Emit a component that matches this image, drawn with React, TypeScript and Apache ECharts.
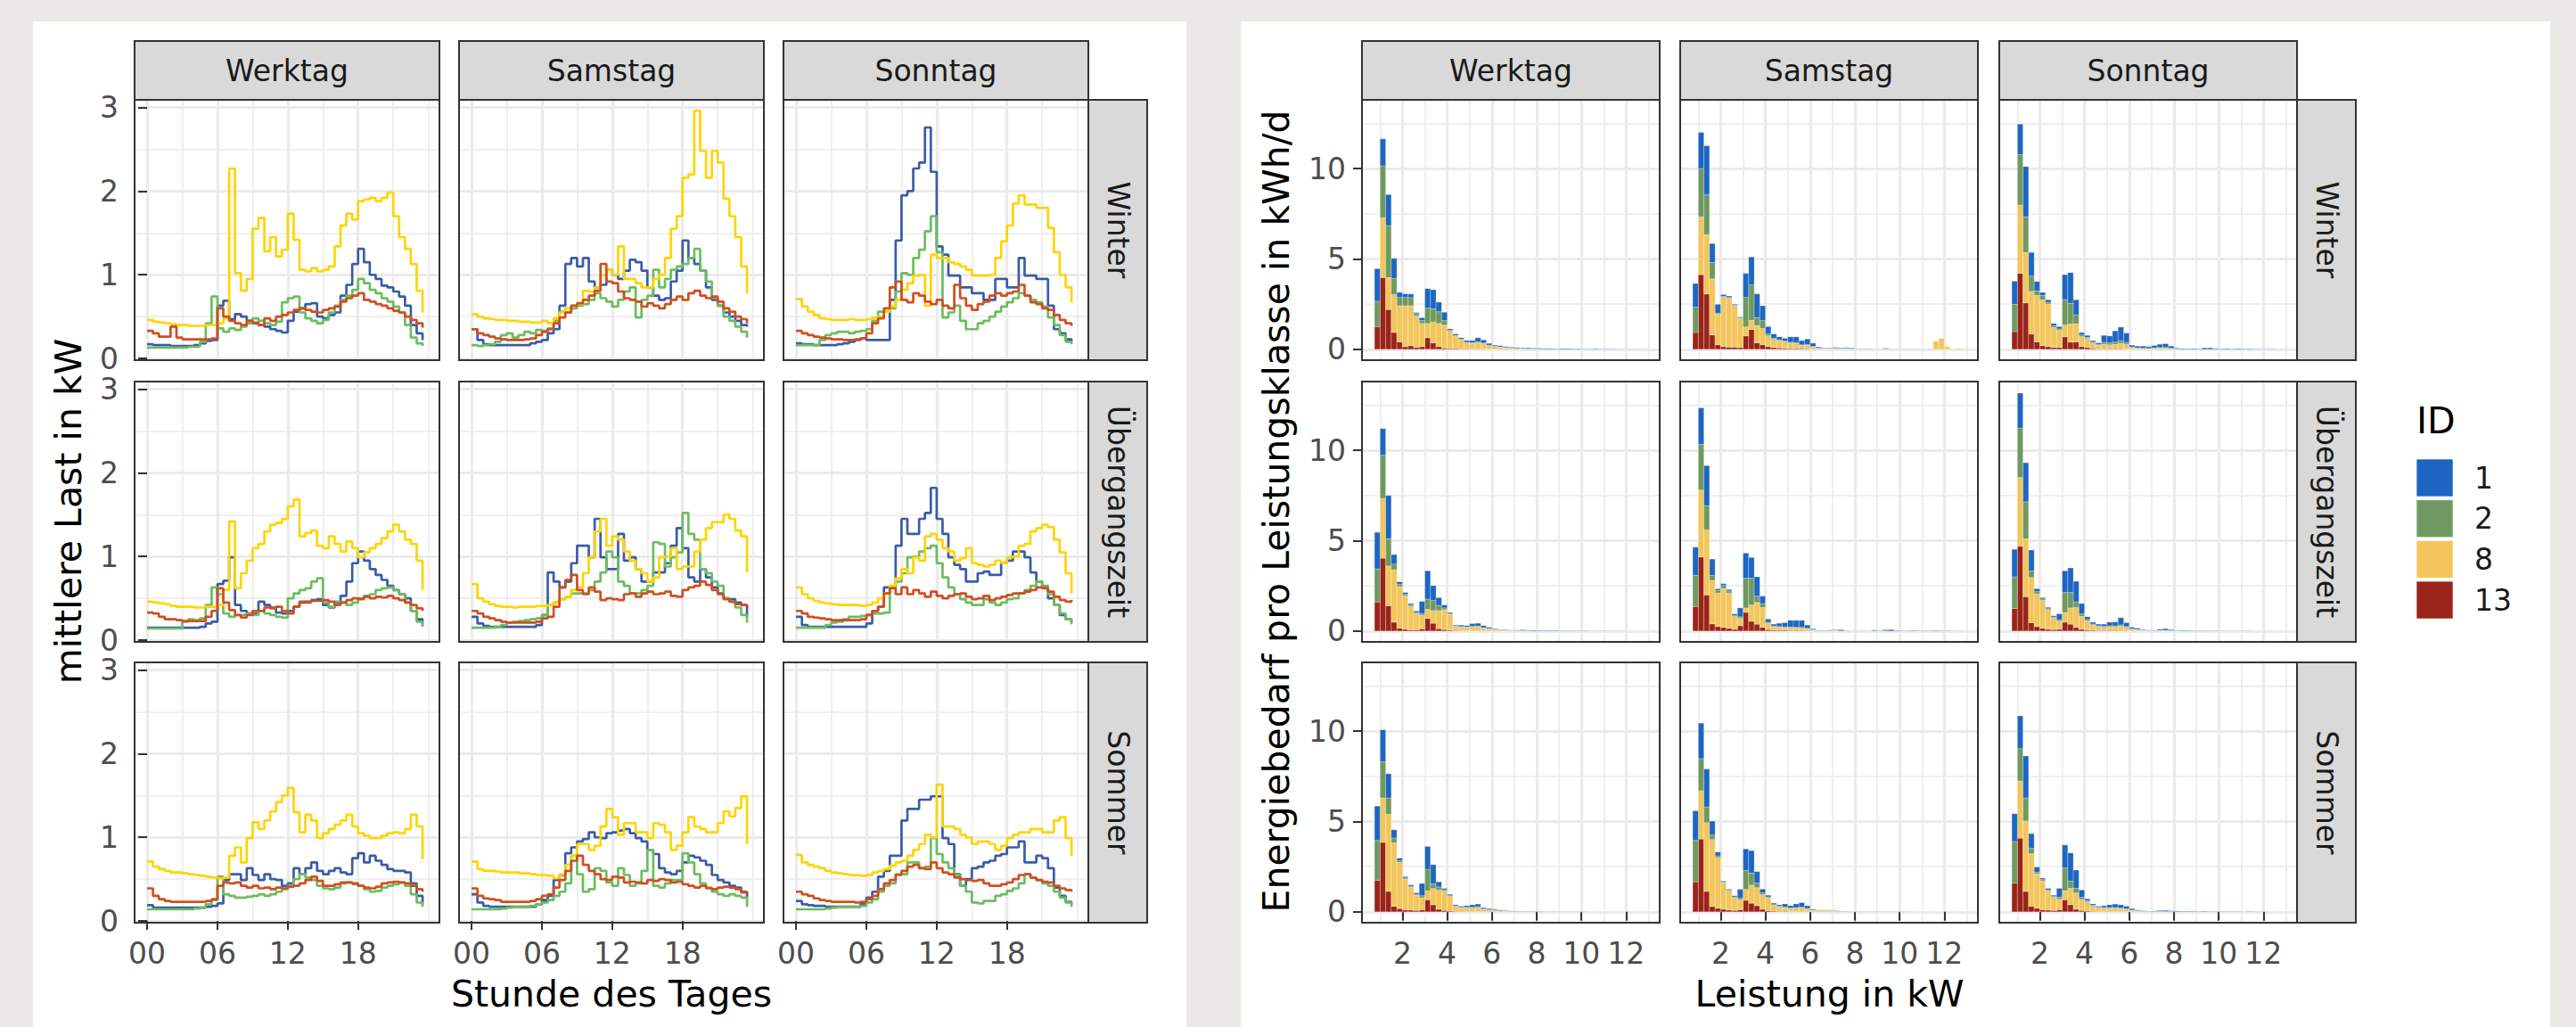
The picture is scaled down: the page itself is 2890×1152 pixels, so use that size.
import React, { useEffect, useRef } from "react";
import * as echarts from "echarts";

// ---------- categories & ticks ----------
const DAYS = ["Werktag", "Samstag", "Sonntag"];
const SEASONS = ["Winter", "Übergangszeit", "Sommer"];
const IDS = ["1", "2", "8", "13"];
const HOUR_TICKS = [0, 6, 12, 18];
const HOUR_TICK_LABELS = ["00", "06", "12", "18"];
const HOUR_MINOR = [3, 9, 15, 21, 24];
const LOAD_TICKS = [0, 1, 2, 3];
const LOAD_MINOR = [0.5, 1.5, 2.5];
const KW_TICKS = [2, 4, 6, 8, 10, 12];
const KW_MINOR = [1, 3, 5, 7, 9, 11, 13];
const ENERGY_TICKS = [0, 5, 10];
const ENERGY_MINOR = [2.5, 7.5, 12.5];

const HALF_HOURS = [0, 0.5, 1, 1.5, 2, 2.5, 3, 3.5, 4, 4.5, 5, 5.5, 6, 6.5, 7, 7.5, 8, 8.5, 9, 9.5, 10, 10.5, 11, 11.5, 12, 12.5, 13, 13.5, 14, 14.5, 15, 15.5, 16, 16.5, 17, 17.5, 18, 18.5, 19, 19.5, 20, 20.5, 21, 21.5, 22, 22.5, 23, 23.5];
const BIN_STARTS = [0.75, 1, 1.25, 1.5, 1.75, 2, 2.25, 2.5, 2.75, 3, 3.25, 3.5, 3.75, 4, 4.25, 4.5, 4.75, 5, 5.25, 5.5, 5.75, 6, 6.25, 6.5, 6.75, 7, 7.25, 7.5, 7.75, 8, 8.25, 8.5, 8.75, 9, 9.25, 9.5, 9.75, 10, 10.25, 10.5, 10.75, 11, 11.25, 11.5, 11.75, 12, 12.25, 12.5];
const BIN_WIDTH = 0.25;

// ---------- mittlere Last in kW (half-hourly steps) ----------
const load_Winter_Werktag_1 = [0.17,0.16,0.16,0.16,0.15,0.15,0.15,0.15,0.16,0.18,0.21,0.22,0.63,0.69,0.47,0.53,0.50,0.45,0.42,0.40,0.38,0.35,0.33,0.31,0.45,0.56,0.60,0.65,0.66,0.50,0.48,0.52,0.55,0.75,0.88,1.13,1.31,1.15,1.00,0.95,0.87,0.85,0.80,0.74,0.63,0.40,0.30,0.22];
const load_Winter_Werktag_2 = [0.13,0.13,0.13,0.13,0.13,0.13,0.13,0.14,0.14,0.20,0.42,0.74,0.36,0.32,0.36,0.34,0.38,0.42,0.48,0.45,0.42,0.40,0.44,0.67,0.72,0.74,0.55,0.48,0.45,0.42,0.46,0.55,0.63,0.70,0.75,0.82,0.95,0.90,0.82,0.78,0.72,0.68,0.62,0.55,0.40,0.25,0.18,0.15];
const load_Winter_Werktag_8 = [0.46,0.44,0.43,0.42,0.41,0.40,0.40,0.39,0.39,0.39,0.40,0.40,0.42,0.48,2.27,1.02,0.81,0.95,1.55,1.68,1.28,1.45,1.22,1.30,1.73,1.42,1.06,1.04,1.08,1.04,1.06,1.10,1.34,1.59,1.73,1.66,1.88,1.90,1.92,1.88,1.92,1.98,1.70,1.45,1.31,1.13,0.81,0.55];
const load_Winter_Werktag_13 = [0.33,0.30,0.26,0.26,0.38,0.25,0.23,0.23,0.23,0.23,0.23,0.24,0.60,0.50,0.45,0.42,0.40,0.45,0.43,0.40,0.48,0.45,0.50,0.52,0.55,0.58,0.60,0.58,0.56,0.55,0.58,0.60,0.62,0.68,0.72,0.75,0.78,0.70,0.68,0.65,0.63,0.60,0.57,0.55,0.50,0.46,0.42,0.37];

const load_Winter_Samstag_1 = [0.35,0.22,0.17,0.16,0.16,0.16,0.16,0.16,0.16,0.16,0.18,0.20,0.22,0.30,0.35,0.63,1.13,1.20,1.10,1.20,0.92,0.85,0.88,1.06,1.00,0.95,1.05,1.18,1.15,1.05,0.85,0.75,0.70,0.72,0.92,1.05,1.41,1.20,1.13,1.05,0.85,0.70,0.63,0.55,0.50,0.45,0.40,0.38];
const load_Winter_Samstag_2 = [0.16,0.15,0.16,0.17,0.20,0.28,0.30,0.25,0.28,0.32,0.30,0.34,0.33,0.36,0.45,0.56,0.55,0.60,0.63,0.65,0.70,0.78,0.72,0.68,0.62,0.70,0.80,0.85,0.49,0.70,0.75,1.06,0.85,0.95,1.06,1.10,1.13,1.20,1.31,1.05,0.92,0.72,0.63,0.50,0.45,0.38,0.32,0.25];
const load_Winter_Samstag_8 = [0.53,0.50,0.48,0.47,0.46,0.46,0.45,0.45,0.44,0.44,0.43,0.43,0.45,0.42,0.48,0.55,0.60,0.63,0.65,0.81,0.80,0.85,1.00,1.06,1.00,1.34,0.95,0.95,0.90,0.85,0.85,0.95,1.00,1.20,1.55,1.70,2.16,2.20,2.96,2.48,2.16,2.48,2.34,1.91,1.70,1.45,1.10,0.78];
const load_Winter_Samstag_13 = [0.35,0.30,0.28,0.26,0.24,0.23,0.22,0.22,0.22,0.23,0.24,0.28,0.32,0.35,0.42,0.49,0.55,0.63,0.66,0.70,0.75,0.81,1.13,0.92,0.90,0.80,0.72,0.70,0.68,0.62,0.66,0.63,0.60,0.65,0.70,0.74,0.70,0.78,0.81,0.75,0.72,0.74,0.68,0.60,0.56,0.50,0.47,0.42];

const load_Winter_Sonntag_1 = [0.18,0.17,0.17,0.16,0.16,0.16,0.16,0.17,0.18,0.20,0.22,0.24,0.22,0.22,0.22,0.22,0.70,1.41,1.95,2.00,2.27,2.34,2.76,2.23,1.34,1.24,0.99,0.99,0.85,0.85,0.78,0.78,0.70,0.70,0.95,0.95,0.85,0.85,1.20,0.99,0.99,0.95,0.95,0.63,0.35,0.30,0.23,0.20];
const load_Winter_Sonntag_2 = [0.16,0.16,0.16,0.16,0.22,0.28,0.30,0.32,0.32,0.30,0.32,0.33,0.35,0.45,0.56,0.56,0.60,0.80,1.02,1.00,1.20,1.30,1.52,1.70,1.27,0.49,0.55,0.63,0.45,0.35,0.35,0.42,0.45,0.50,0.56,0.62,0.67,0.72,0.78,0.75,0.70,0.67,0.62,0.49,0.40,0.28,0.20,0.17];
const load_Winter_Sonntag_8 = [0.71,0.62,0.56,0.52,0.48,0.47,0.46,0.46,0.46,0.47,0.46,0.46,0.47,0.49,0.50,0.56,0.62,0.70,0.82,0.90,0.99,1.00,0.63,1.24,1.20,1.20,1.15,1.13,1.10,1.06,0.99,0.99,0.99,1.00,1.20,1.40,1.59,1.85,1.95,1.84,1.84,1.80,1.80,1.56,1.27,1.00,0.85,0.67];
const load_Winter_Sonntag_13 = [0.33,0.30,0.28,0.26,0.25,0.24,0.23,0.23,0.22,0.22,0.23,0.24,0.30,0.42,0.48,0.60,0.85,0.92,0.70,0.67,0.78,0.75,0.68,0.65,0.70,0.63,0.60,0.88,0.72,0.63,0.58,0.65,0.68,0.75,0.78,0.75,0.78,0.80,0.88,0.75,0.67,0.65,0.60,0.58,0.52,0.46,0.42,0.39];

const load_Ueber_Werktag_1 = [0.15,0.15,0.15,0.15,0.15,0.15,0.15,0.15,0.15,0.16,0.20,0.22,0.67,0.71,0.99,0.42,0.35,0.32,0.32,0.46,0.42,0.39,0.33,0.32,0.35,0.40,0.45,0.46,0.48,0.49,0.42,0.39,0.45,0.53,0.70,0.92,1.06,0.95,0.85,0.78,0.72,0.65,0.60,0.55,0.50,0.35,0.25,0.19];
const load_Ueber_Werktag_2 = [0.14,0.14,0.14,0.14,0.14,0.14,0.22,0.25,0.24,0.26,0.42,0.63,0.55,0.32,0.28,0.30,0.30,0.32,0.30,0.35,0.32,0.30,0.28,0.27,0.50,0.56,0.60,0.62,0.70,0.74,0.45,0.40,0.46,0.45,0.42,0.45,0.50,0.53,0.55,0.60,0.62,0.63,0.60,0.55,0.45,0.35,0.22,0.16];
const load_Ueber_Werktag_8 = [0.46,0.45,0.44,0.43,0.41,0.40,0.40,0.40,0.39,0.39,0.40,0.40,0.42,0.60,1.42,0.62,0.80,0.95,1.10,1.15,1.30,1.38,1.40,1.45,1.60,1.68,1.24,1.28,1.31,1.13,1.10,1.24,1.15,1.06,1.18,1.10,0.99,1.05,1.10,1.15,1.22,1.30,1.38,1.30,1.20,1.15,0.95,0.60];
const load_Ueber_Werktag_13 = [0.33,0.32,0.28,0.25,0.25,0.24,0.23,0.23,0.23,0.23,0.28,0.35,0.62,0.45,0.36,0.30,0.27,0.30,0.35,0.35,0.39,0.38,0.40,0.35,0.32,0.40,0.46,0.45,0.47,0.47,0.48,0.46,0.42,0.45,0.48,0.50,0.49,0.52,0.50,0.52,0.51,0.53,0.50,0.48,0.45,0.42,0.38,0.35];

const load_Ueber_Samstag_1 = [0.28,0.20,0.17,0.16,0.16,0.16,0.16,0.16,0.16,0.16,0.16,0.18,0.30,0.81,0.70,0.63,0.70,0.92,1.13,1.13,0.99,1.45,0.99,0.85,0.85,1.27,0.95,0.99,0.85,0.70,0.70,0.81,0.81,0.92,1.13,1.34,1.10,0.75,0.70,0.85,0.75,0.63,0.56,0.50,0.49,0.45,0.42,0.28];
const load_Ueber_Samstag_2 = [0.15,0.15,0.15,0.15,0.16,0.18,0.21,0.22,0.23,0.24,0.25,0.26,0.30,0.42,0.45,0.49,0.52,0.56,0.56,0.56,0.60,0.70,0.81,1.06,0.99,0.70,0.65,0.56,0.56,0.60,0.65,1.17,1.15,0.88,0.99,1.05,1.52,1.27,1.20,0.85,0.80,0.70,0.65,0.50,0.46,0.39,0.30,0.21];
const load_Ueber_Samstag_8 = [0.67,0.50,0.46,0.43,0.41,0.40,0.40,0.39,0.40,0.40,0.40,0.41,0.41,0.42,0.45,0.49,0.52,0.60,0.63,0.80,0.99,1.30,1.45,1.13,1.24,1.20,1.06,0.95,0.85,0.80,0.70,0.75,0.99,1.00,1.10,0.85,0.88,0.88,1.06,1.20,1.34,1.41,1.41,1.50,1.45,1.31,1.24,0.81];
const load_Ueber_Samstag_13 = [0.35,0.32,0.28,0.26,0.24,0.22,0.21,0.21,0.21,0.21,0.21,0.22,0.26,0.28,0.40,0.63,0.72,0.78,0.60,0.55,0.63,0.58,0.48,0.50,0.49,0.48,0.55,0.56,0.52,0.56,0.58,0.55,0.56,0.58,0.53,0.52,0.60,0.63,0.65,0.70,0.66,0.60,0.55,0.49,0.46,0.43,0.42,0.40];

const load_Ueber_Sonntag_1 = [0.28,0.18,0.16,0.16,0.16,0.16,0.16,0.16,0.16,0.16,0.16,0.16,0.20,0.35,0.40,0.63,0.63,1.13,1.45,1.27,1.27,1.45,1.52,1.82,1.45,1.27,0.99,0.90,0.85,0.70,0.70,0.80,0.82,0.78,0.78,0.92,0.95,1.06,1.06,0.99,0.81,0.70,0.63,0.50,0.42,0.30,0.25,0.22];
const load_Ueber_Sonntag_2 = [0.15,0.15,0.15,0.15,0.15,0.18,0.21,0.22,0.25,0.28,0.28,0.29,0.30,0.32,0.32,0.33,0.63,0.70,0.80,0.99,1.00,1.06,1.10,1.13,0.92,0.75,0.63,0.55,0.49,0.45,0.42,0.42,0.49,0.45,0.42,0.45,0.49,0.50,0.56,0.60,0.65,0.70,0.65,0.55,0.42,0.32,0.25,0.19];
const load_Ueber_Sonntag_8 = [0.63,0.55,0.50,0.47,0.45,0.44,0.43,0.42,0.42,0.42,0.42,0.41,0.42,0.45,0.50,0.56,0.65,0.74,0.85,0.80,0.99,0.95,1.24,1.27,1.20,1.10,1.06,0.95,0.98,1.10,0.92,0.90,0.88,0.90,0.95,0.92,0.99,1.00,1.13,1.15,1.30,1.34,1.38,1.35,1.20,1.05,0.80,0.56];
const load_Ueber_Sonntag_13 = [0.35,0.32,0.28,0.27,0.26,0.25,0.24,0.24,0.24,0.24,0.24,0.25,0.30,0.35,0.40,0.56,0.62,0.55,0.63,0.55,0.60,0.56,0.52,0.58,0.53,0.50,0.53,0.55,0.56,0.52,0.49,0.50,0.53,0.48,0.50,0.52,0.54,0.56,0.56,0.58,0.60,0.63,0.62,0.58,0.52,0.48,0.46,0.48];

const load_Sommer_Werktag_1 = [0.19,0.16,0.16,0.16,0.16,0.16,0.16,0.16,0.16,0.16,0.17,0.18,0.21,0.49,0.56,0.56,0.49,0.63,0.55,0.49,0.56,0.50,0.49,0.42,0.45,0.63,0.56,0.63,0.70,0.60,0.56,0.60,0.63,0.58,0.56,0.75,0.81,0.70,0.78,0.72,0.67,0.62,0.60,0.60,0.58,0.45,0.30,0.21];
const load_Sommer_Werktag_2 = [0.14,0.14,0.14,0.14,0.14,0.14,0.14,0.14,0.15,0.16,0.20,0.25,0.53,0.32,0.30,0.28,0.28,0.29,0.30,0.32,0.30,0.32,0.35,0.38,0.42,0.50,0.56,0.52,0.49,0.42,0.39,0.38,0.40,0.45,0.46,0.44,0.42,0.38,0.35,0.36,0.40,0.42,0.44,0.46,0.42,0.32,0.22,0.17];
const load_Sommer_Werktag_8 = [0.71,0.65,0.62,0.60,0.58,0.58,0.57,0.56,0.55,0.54,0.53,0.52,0.51,0.52,0.78,0.88,0.70,0.99,1.18,1.10,1.20,1.31,1.42,1.50,1.59,1.30,1.06,1.27,1.20,0.99,1.05,1.10,1.15,1.20,1.27,1.13,1.05,1.02,0.99,0.99,1.02,1.05,1.06,1.05,1.10,1.27,1.13,0.74];
const load_Sommer_Werktag_13 = [0.39,0.30,0.26,0.24,0.23,0.23,0.23,0.23,0.23,0.23,0.24,0.26,0.42,0.46,0.45,0.46,0.42,0.40,0.42,0.39,0.40,0.38,0.40,0.39,0.41,0.42,0.45,0.49,0.53,0.48,0.42,0.42,0.44,0.46,0.46,0.45,0.42,0.40,0.39,0.41,0.45,0.46,0.47,0.46,0.45,0.42,0.38,0.35];

const load_Sommer_Samstag_1 = [0.32,0.22,0.18,0.17,0.17,0.17,0.17,0.17,0.17,0.17,0.17,0.20,0.25,0.30,0.49,0.55,0.81,0.88,0.95,0.98,1.06,1.00,0.99,1.05,1.06,1.08,1.10,1.05,0.99,0.95,0.85,0.80,0.63,0.58,0.56,0.60,0.70,0.78,0.76,0.72,0.67,0.55,0.49,0.46,0.42,0.40,0.35,0.28];
const load_Sommer_Samstag_2 = [0.14,0.14,0.14,0.14,0.14,0.15,0.16,0.17,0.17,0.17,0.18,0.20,0.22,0.25,0.30,0.35,0.45,0.78,0.56,0.35,0.38,0.63,0.60,0.46,0.42,0.63,0.55,0.42,0.45,0.60,0.85,0.42,0.40,0.45,0.49,0.49,0.81,0.70,0.56,0.45,0.40,0.35,0.32,0.30,0.32,0.30,0.28,0.17];
const load_Sommer_Samstag_8 = [0.71,0.62,0.60,0.60,0.59,0.58,0.58,0.58,0.57,0.57,0.56,0.55,0.55,0.54,0.51,0.56,0.67,0.78,0.92,0.92,0.85,0.90,1.13,1.34,1.24,1.03,1.17,1.17,1.06,1.06,0.99,1.17,1.15,1.06,0.85,0.90,1.06,1.24,1.13,1.10,1.06,1.06,1.17,1.31,1.25,1.35,1.49,0.92];
const load_Sommer_Samstag_13 = [0.39,0.30,0.27,0.26,0.25,0.23,0.23,0.23,0.23,0.23,0.24,0.26,0.30,0.32,0.40,0.49,0.60,0.72,0.78,0.67,0.60,0.56,0.50,0.49,0.53,0.52,0.46,0.47,0.46,0.45,0.49,0.48,0.50,0.49,0.46,0.47,0.44,0.42,0.40,0.42,0.39,0.38,0.40,0.41,0.40,0.38,0.34,0.32];

const load_Sommer_Sonntag_1 = [0.24,0.20,0.19,0.18,0.18,0.17,0.17,0.17,0.17,0.17,0.17,0.20,0.28,0.35,0.53,0.60,0.78,0.78,1.20,1.34,1.34,1.45,1.45,1.49,1.49,0.99,0.92,0.56,0.42,0.50,0.63,0.65,0.70,0.72,0.78,0.80,0.88,0.88,0.95,0.70,0.70,0.78,0.75,0.63,0.40,0.30,0.23,0.21];
const load_Sommer_Sonntag_2 = [0.14,0.14,0.14,0.14,0.14,0.15,0.16,0.17,0.17,0.17,0.17,0.18,0.22,0.26,0.35,0.42,0.45,0.56,0.56,0.70,0.70,0.63,0.65,0.99,0.80,0.70,0.63,0.55,0.42,0.35,0.22,0.21,0.24,0.24,0.30,0.32,0.36,0.39,0.45,0.56,0.52,0.49,0.45,0.42,0.35,0.28,0.22,0.17];
const load_Sommer_Sonntag_8 = [0.79,0.70,0.67,0.65,0.63,0.60,0.58,0.57,0.56,0.55,0.55,0.54,0.55,0.58,0.60,0.62,0.66,0.70,0.72,0.78,0.85,0.92,1.03,1.00,1.63,1.13,1.13,1.10,1.03,1.00,0.92,0.95,0.95,0.92,0.85,0.90,0.99,1.03,1.06,1.06,1.10,1.10,1.06,1.06,1.20,1.24,0.99,0.78];
const load_Sommer_Sonntag_13 = [0.35,0.32,0.30,0.27,0.25,0.24,0.23,0.23,0.23,0.23,0.22,0.23,0.26,0.30,0.38,0.45,0.49,0.55,0.60,0.65,0.67,0.63,0.62,0.70,0.63,0.58,0.56,0.52,0.50,0.49,0.48,0.49,0.45,0.42,0.42,0.44,0.46,0.50,0.55,0.56,0.52,0.49,0.47,0.46,0.42,0.39,0.37,0.35];

// ---------- Energiebedarf pro Leistungsklasse in kWh/d (bins of 0.25 kW from 0.75 kW) ----------
const energy_Winter_Werktag_1 = [1.80,1.49,1.72,1.10,0.28,0.20,0.20,0.06,0.16,1.08,1.05,0.53,0.46,0.08,0.07,0.08,0.10,0.12,0.23,0.17,0.10,0.06,0.06,0.05,0.05,0.05,0.04,0.05,0.04,0.04,0.04,0.04,0.03,0.04,0.04,0.03,0.03,0.02,0.02,0.03,0.02,0.02,0.02,0.01,0.01,0.01,0.01,0.01];
const energy_Winter_Werktag_2 = [1.40,2.87,2.87,0.90,0.46,0.46,0.45,0.13,0.16,0.85,0.74,0.65,0.25,0.05,0.04,0.03,0.03,0.03,0.04,0.03,0.02,0.01,0.01];
const energy_Winter_Werktag_8 = [0,3.31,1.77,2.10,2.00,2.26,2.21,1.73,1.28,0.79,1.15,1.28,1.27,0.95,0.70,0.50,0.33,0.32,0.35,0.30,0.20,0.15,0.13,0.10,0.07,0.05,0.04,0.03,0.03,0.02,0.01,0.01,0.01];
const energy_Winter_Werktag_13 = [1.26,3.97,2.20,0.93,0.41,0.15,0.20,0.11,0.15,0.64,0.36,0.15,0.07,0.05,0.04,0.03,0.03,0.02,0.02,0.02,0.01,0.01];

const energy_Winter_Samstag_1 = [1.31,2.00,2.70,1.05,0.49,0.10,0.08,0.05,0.05,1.33,1.55,1.32,0.82,0.41,0.24,0.16,0.15,0.30,0.32,0.23,0.31,0.18,0.06,0.03,0.03,0.04,0.04,0.04,0.04,0.02,0.02,0.02,0.01,0.01,0,0.01,0.01,0.01,0.01,0.01,0.01,0.01,0.01];
const energy_Winter_Samstag_2 = [1.40,2.67,2.22,0.90,0.05,0.05,0.05,0.05,0.04,1.63,1.96,0.44,0.43,0.10,0.06,0.05,0.05,0.04,0.04,0.03,0.03,0.02,0.02,0.01,0.01,0.01,0.01,0.01,0,0,0,0,0,0,0.05];
const energy_Winter_Samstag_8 = [0,3.20,3.28,3.10,1.70,2.73,2.70,2.27,1.60,0.50,0.50,0.95,0.90,0.60,0.45,0.40,0.35,0.30,0.28,0.18,0.20,0.12,0.05,0.03,0.03,0.04,0.03,0.03,0.03,0.01,0.01,0.01,0.01,0.01,0.02,0.01,0.01,0.01,0.01,0.01,0.01,0.01,0.01,0.45,0.60,0.15,0.02,0.04];
const energy_Winter_Samstag_13 = [0.93,4.13,3.06,0.80,0.25,0.15,0.12,0.12,0.10,0.74,1.10,0.36,0.26,0.15,0.10,0.08,0.06,0.05,0.05,0.04,0.03,0.02,0,0,0.01,0.02,0,0.02];

const energy_Winter_Sonntag_1 = [1.28,1.69,2.78,1.31,0.52,0.17,0.14,0.13,0.13,1.39,1.69,0.83,0.13,0.11,0.08,0.08,0.39,0.39,0.62,0.75,0.53,0.10,0.10,0.12,0.10,0.13,0.18,0.21,0.12,0.05,0.04,0.03,0.04,0.03,0.08,0.08,0.04,0.03,0.04,0.03,0.04,0.03,0.03,0.02,0.02,0.02,0.02,0.01];
const energy_Winter_Sonntag_2 = [1.51,2.79,1.97,0.85,0.25,0.24,0.10,0.10,0.08,1.40,1.15,0.50,0.10,0.06,0.05,0.05,0.10,0.10,0.12,0.15,0.10,0.03,0,0,0,0.02,0.03,0.03,0.01];
const energy_Winter_Sonntag_8 = [0,3.77,2.79,2.35,2.57,2.54,2.35,1.10,0.95,0.65,1.00,1.00,0.55,0.50,0.30,0.20,0.25,0.22,0.25,0.30,0.25,0.10,0.08,0.06,0.05,0.06,0.07,0.07,0.05,0.02];
const energy_Winter_Sonntag_13 = [0.98,4.21,2.57,0.85,0.41,0.20,0.15,0.10,0.10,0.69,0.40,0.41,0.15,0.10,0.05,0.03,0.03,0.03,0.03,0.03,0.02];

const energy_Ueber_Werktag_1 = [2.02,1.48,2.40,0.53,0.13,0.10,0.08,0.08,0.69,1.56,0.82,0.44,0.16,0.05,0.05,0.08,0.07,0.15,0.15,0.11,0.07,0.04,0.03,0.03,0.02,0.02,0.04,0.03,0.04,0.03,0.03,0.03,0.03,0.02,0.02,0.02,0.02,0.02,0.01,0.01,0.01,0.01,0.01,0.01,0.01];
const energy_Ueber_Werktag_2 = [1.83,2.38,1.50,0.31,0.13,0.08,0.07,0.06,0.08,0.57,0.56,0.28,0.10,0.05,0.03,0.03,0.03,0.04,0.04,0.03,0.02,0.01];
const energy_Ueber_Werktag_8 = [0,3.31,2.20,2.90,2.30,1.85,1.30,0.90,0.75,0.50,0.70,1.00,1.10,0.88,0.22,0.20,0.18,0.20,0.22,0.15,0.12,0.08,0.05,0.04,0.03,0.03,0.03,0.02];
const energy_Ueber_Werktag_13 = [1.61,4.03,1.40,0.49,0.16,0.10,0.07,0.07,0.12,0.70,0.43,0.13,0.08,0.05,0.03,0.02,0.02,0.02,0.02,0.01];

const energy_Ueber_Samstag_1 = [1.56,2.01,2.22,0.90,0.08,0.10,0.08,0.07,0.49,1.39,1.15,1.07,0.41,0.17,0.10,0.18,0.23,0.37,0.38,0.39,0.18,0.05,0.02,0.02,0.03,0.03,0.03,0.02,0.01,0.01,0.01,0.01,0.04,0.02,0.06,0.08,0.03,0.02,0.02,0.03,0.02,0.02,0.02,0.03,0.02,0.02,0.01,0.01];
const energy_Ueber_Samstag_2 = [1.72,2.53,1.33,0.28,0.16,0.17,0.12,0.08,0.09,1.64,1.48,0.35,0.22,0.06,0.05,0.04,0.04,0.04,0.04,0.04,0.03,0.02,0.01,0,0.01,0.01,0.01,0,0,0,0,0,0,0,0.01];
const energy_Ueber_Samstag_8 = [0,3.70,3.60,2.40,1.85,2.15,1.95,0.70,0.40,0.25,0.90,1.20,1.10,0.35,0.18,0.17,0.15,0.15,0.14,0.13,0.10,0.05,0.02,0.02,0.01,0.02,0.01,0.01,0.01,0.01,0,0.01,0.01];
const energy_Ueber_Samstag_13 = [1.36,4.10,2.00,0.40,0.25,0.20,0.15,0.10,0.30,1.03,0.54,0.38,0.20,0.08,0.05,0.04,0.04,0.03,0.03,0.03,0.02,0.01,0,0,0,0.02,0.05];

const energy_Ueber_Sonntag_1 = [1.52,1.93,2.16,1.15,0.16,0.07,0.07,0.06,0.33,1.20,1.36,1.14,0.57,0.15,0.10,0.09,0.12,0.20,0.21,0.40,0.21,0.09,0.07,0.03,0.02,0.02,0.06,0.09,0.05,0.02,0.03,0.03,0.02,0.02,0.02,0.02,0.02,0.01,0.01,0.01,0.01,0.01,0.01];
const energy_Ueber_Sonntag_2 = [1.75,2.74,2.05,0.37,0.13,0.08,0.06,0.05,0.08,1.10,0.85,0.31,0.13,0.08,0.05,0.04,0.05,0.06,0.06,0.07,0.05,0.02,0.02,0.01,0.01,0,0.01,0.01,0.01];
const energy_Ueber_Sonntag_8 = [0,3.80,3.20,2.50,1.80,1.55,1.08,0.65,0.44,0.54,0.90,1.10,0.72,0.50,0.30,0.22,0.18,0.20,0.20,0.25,0.18,0.10,0.07,0.04,0.02,0.02,0.03,0.03,0.02,0.01];
const energy_Ueber_Sonntag_13 = [1.25,4.69,1.90,0.46,0.25,0.15,0.10,0.08,0.10,0.49,0.38,0.20,0.10,0.06,0.04,0.03,0.03,0.03,0.03,0.02,0.02];

const energy_Sommer_Werktag_1 = [1.90,1.77,1.34,0.46,0.14,0.07,0.07,0.07,0.68,1.26,1.07,0.28,0.07,0.07,0.06,0.06,0.09,0.14,0.15,0.07,0.06,0.05,0.04,0.03,0.02,0.02,0.02,0.02,0.02,0.02,0.01,0.01,0.01,0.01,0.01,0.01,0.01,0.01];
const energy_Sommer_Werktag_2 = [2.20,2.00,0.90,0.27,0.10,0.06,0.05,0.05,0.12,1.19,0.25,0.18,0.08,0.05,0.03,0.03,0.03,0.03,0.04,0.02,0.02,0.01];
const energy_Sommer_Werktag_8 = [0,2.46,4.27,3.50,2.55,1.70,1.27,0.85,0.65,0.50,0.90,1.05,1.07,0.80,0.27,0.20,0.20,0.20,0.22,0.13,0.10,0.09,0.06,0.04,0.03,0.02,0.02,0.01];
const energy_Sommer_Werktag_13 = [1.75,3.84,1.13,0.31,0.18,0.12,0.10,0.08,0.12,0.67,0.39,0.15,0.08,0.05,0.03,0.02,0.02,0.02,0.02,0.01];

const energy_Sommer_Samstag_1 = [1.64,1.96,2.10,0.77,0.21,0.05,0.05,0.06,0.50,1.20,1.24,0.64,0.21,0.09,0.08,0.08,0.17,0.13,0.20,0.25,0.15,0.05,0.03,0.01,0.02,0.03,0.02,0.02,0.01,0.01,0.01,0.01,0.01,0.01,0.01,0.01,0.01,0.01];
const energy_Sommer_Samstag_2 = [2.29,1.78,0.87,0.25,0.10,0.05,0.05,0.05,0.08,1.04,0.67,0.25,0.10,0.06,0.04,0.04,0.04,0.03,0.04,0.04,0.03,0.02,0.01];
const energy_Sommer_Samstag_8 = [0,2.67,3.80,3.70,2.80,1.45,1.05,0.70,0.55,0.60,1.00,1.00,0.80,0.70,0.32,0.24,0.20,0.16,0.18,0.20,0.14,0.08,0.06,0.10,0.08,0.04,0.02,0.01,0.01,0,0,0,0,0,0,0,0,0,0.03];
const energy_Sommer_Samstag_13 = [1.66,4.03,1.13,0.30,0.20,0.15,0.10,0.08,0.12,0.64,0.48,0.34,0.15,0.07,0.04,0.03,0.03,0.02,0.02,0.02,0.02];

const energy_Sommer_Sonntag_1 = [1.54,1.81,2.32,0.82,0.28,0.08,0.08,0.07,0.50,1.26,1.56,1.01,0.41,0.10,0.08,0.06,0.10,0.15,0.19,0.18,0.14,0.08,0.04,0.03,0.02,0.03,0.05,0.06,0.04,0.04,0.03,0.03,0.03,0.02,0.03,0.02,0.02,0.02,0.02,0.02,0.02,0.01,0.02,0.01,0.01];
const energy_Sommer_Sonntag_2 = [2.30,1.80,1.27,0.30,0.10,0.07,0.07,0.05,0.10,1.27,0.40,0.25,0.12,0.07,0.05,0.03,0.04,0.04,0.04,0.04,0.03,0.02,0.01];
const energy_Sommer_Sonntag_8 = [0,3.15,3.90,2.90,1.90,1.60,1.05,0.72,0.58,0.50,0.90,0.90,0.60,0.50,0.28,0.20,0.18,0.18,0.18,0.15,0.13,0.08,0.05,0.03,0.02,0.02,0.03,0.02,0.02];
const energy_Sommer_Sonntag_13 = [1.59,4.08,1.13,0.31,0.20,0.12,0.10,0.08,0.12,0.67,0.40,0.15,0.08,0.05,0.03,0.02,0.02,0.02,0.02,0.02,0.01];

// lookup tables [season][day] -> [id1, id2, id8, id13]
const LOAD = [
  [[load_Winter_Werktag_1, load_Winter_Werktag_2, load_Winter_Werktag_8, load_Winter_Werktag_13],
   [load_Winter_Samstag_1, load_Winter_Samstag_2, load_Winter_Samstag_8, load_Winter_Samstag_13],
   [load_Winter_Sonntag_1, load_Winter_Sonntag_2, load_Winter_Sonntag_8, load_Winter_Sonntag_13]],
  [[load_Ueber_Werktag_1, load_Ueber_Werktag_2, load_Ueber_Werktag_8, load_Ueber_Werktag_13],
   [load_Ueber_Samstag_1, load_Ueber_Samstag_2, load_Ueber_Samstag_8, load_Ueber_Samstag_13],
   [load_Ueber_Sonntag_1, load_Ueber_Sonntag_2, load_Ueber_Sonntag_8, load_Ueber_Sonntag_13]],
  [[load_Sommer_Werktag_1, load_Sommer_Werktag_2, load_Sommer_Werktag_8, load_Sommer_Werktag_13],
   [load_Sommer_Samstag_1, load_Sommer_Samstag_2, load_Sommer_Samstag_8, load_Sommer_Samstag_13],
   [load_Sommer_Sonntag_1, load_Sommer_Sonntag_2, load_Sommer_Sonntag_8, load_Sommer_Sonntag_13]],
];
const ENERGY = [
  [[energy_Winter_Werktag_1, energy_Winter_Werktag_2, energy_Winter_Werktag_8, energy_Winter_Werktag_13],
   [energy_Winter_Samstag_1, energy_Winter_Samstag_2, energy_Winter_Samstag_8, energy_Winter_Samstag_13],
   [energy_Winter_Sonntag_1, energy_Winter_Sonntag_2, energy_Winter_Sonntag_8, energy_Winter_Sonntag_13]],
  [[energy_Ueber_Werktag_1, energy_Ueber_Werktag_2, energy_Ueber_Werktag_8, energy_Ueber_Werktag_13],
   [energy_Ueber_Samstag_1, energy_Ueber_Samstag_2, energy_Ueber_Samstag_8, energy_Ueber_Samstag_13],
   [energy_Ueber_Sonntag_1, energy_Ueber_Sonntag_2, energy_Ueber_Sonntag_8, energy_Ueber_Sonntag_13]],
  [[energy_Sommer_Werktag_1, energy_Sommer_Werktag_2, energy_Sommer_Werktag_8, energy_Sommer_Werktag_13],
   [energy_Sommer_Samstag_1, energy_Sommer_Samstag_2, energy_Sommer_Samstag_8, energy_Sommer_Samstag_13],
   [energy_Sommer_Sonntag_1, energy_Sommer_Sonntag_2, energy_Sommer_Sonntag_8, energy_Sommer_Sonntag_13]],
];

// ---------- styling & layout ----------
const FONT = "DejaVu Sans";
const LINE_COLORS = ["#3a5ca8", "#6cbd5f", "#ffd400", "#d04f20"];
const BAR_COLORS = ["#1d66c2", "#6f9960", "#f2c65c", "#9a2419"];
const PAGE_BG = "#ebe9e5";

const LEFT_COLS = [151, 515, 879];
const LEFT_W = 342;
const RIGHT_COLS = [1528, 1885, 2243];
const RIGHT_W = 334;
const ROWS = [112, 428, 743];
const PANEL_H = 292;
const STRIP = 66;
const STRIP_TOP = 46;

const HOUR_RANGE = [-1.07, 24.94];
const LOAD_RANGE = [-0.02, 3.09];
const KW_RANGE = [0.19, 13.5];
const ENERGY_RANGE = [-0.6, 13.8];

function textEl(text: string, x: number, y: number, size: number, color: string, rotation = 0, align = "center") {
  return {
    type: "text", x, y, rotation, z: 110, silent: true,
    style: { text, fill: color, fontSize: size, fontFamily: FONT, align, verticalAlign: "middle", textAlign: align, textVerticalAlign: "middle" },
  };
}
function rectEl(x: number, y: number, w: number, h: number, fill: string, stroke: string | null, lw = 2, z = 100) {
  return { type: "rect", z, silent: true, shape: { x, y, width: w, height: h }, style: { fill, stroke: stroke || undefined, lineWidth: stroke ? lw : 0 } };
}

function axisPair(dim: "x" | "y", gridIndex: number, range: number[], ticks: number[], minor: number[], showTicks: boolean, formatter?: any) {
  const label: any = { show: showTicks, customValues: ticks, color: "#4d4d4d", fontSize: 33, fontFamily: FONT, margin: 18 };
  if (formatter) label.formatter = formatter;
  const major = {
    gridIndex, type: "value", min: range[0], max: range[1],
    position: dim === "x" ? "bottom" : "left",
    axisLine: { show: false },
    axisTick: { show: showTicks, customValues: ticks, length: 10, lineStyle: { color: "#333333", width: 2 } },
    axisLabel: label,
    splitLine: { show: true, lineStyle: { color: "#ebebeb", width: 3.2 } },
    minorTick: { show: false }, minorSplitLine: { show: false },
  };
  const minorAxis = {
    gridIndex, type: "value", min: range[0], max: range[1],
    position: dim === "x" ? "top" : "right",
    axisLine: { show: false },
    axisTick: { show: false, customValues: minor },
    axisLabel: { show: false, customValues: minor },
    splitLine: { show: true, lineStyle: { color: "#ebebeb", width: 1.6 } },
  };
  return [major, minorAxis];
}

function buildOption() {
  const grid: any[] = [];
  const xAxis: any[] = [];
  const yAxis: any[] = [];
  const series: any[] = [];
  const elements: any[] = [];

  const hourFmt = (v: number) => {
    const k = HOUR_TICKS.indexOf(v);
    return k >= 0 ? HOUR_TICK_LABELS[k] : "";
  };

  // ---- left facet grid: step lines ----
  SEASONS.forEach((season, r) => {
    DAYS.forEach((day, c) => {
      const gi = grid.length;
      grid.push({ left: LEFT_COLS[c], top: ROWS[r], width: LEFT_W, height: PANEL_H });
      xAxis.push(...axisPair("x", gi, HOUR_RANGE, HOUR_TICKS, HOUR_MINOR, r === 2, hourFmt));
      yAxis.push(...axisPair("y", gi, LOAD_RANGE, LOAD_TICKS, LOAD_MINOR, c === 0));
      IDS.forEach((id, j) => {
        const arr = LOAD[r][c][j];
        series.push({
          type: "line", name: id, xAxisIndex: 2 * gi, yAxisIndex: 2 * gi,
          step: "end", symbol: "none", showSymbol: false, silent: true, clip: true, z: 3 + j,
          lineStyle: { color: LINE_COLORS[j], width: 2.7 }, itemStyle: { color: LINE_COLORS[j] },
          data: arr.map((v, i) => [HALF_HOURS[i], v]),
        });
      });
      elements.push(rectEl(LEFT_COLS[c], ROWS[r], LEFT_W, PANEL_H, "rgba(0,0,0,0)", "#333333"));
    });
  });

  // ---- right facet grid: stacked histograms ----
  SEASONS.forEach((season, r) => {
    DAYS.forEach((day, c) => {
      const gi = grid.length;
      grid.push({ left: RIGHT_COLS[c], top: ROWS[r], width: RIGHT_W, height: PANEL_H });
      xAxis.push(...axisPair("x", gi, KW_RANGE, KW_TICKS, KW_MINOR, r === 2));
      yAxis.push(...axisPair("y", gi, ENERGY_RANGE, ENERGY_TICKS, ENERGY_MINOR, c === 0));
      const arrs = ENERGY[r][c];
      const base: number[] = BIN_STARTS.map(() => 0);
      [3, 2, 1, 0].forEach((j) => {
        const data: number[][] = [];
        arrs[j].forEach((v, i) => {
          if (v > 0) data.push([BIN_STARTS[i], BIN_STARTS[i] + BIN_WIDTH, base[i], base[i] + v]);
          base[i] += v;
        });
        const color = BAR_COLORS[j];
        series.push({
          type: "custom", name: IDS[j], xAxisIndex: 2 * gi, yAxisIndex: 2 * gi,
          encode: { x: [0, 1], y: [2, 3] }, clip: true, silent: true, z: 3,
          data,
          renderItem: (params: any, api: any) => {
            const p0 = api.coord([api.value(0), api.value(2)]);
            const p1 = api.coord([api.value(1), api.value(3)]);
            return {
              type: "rect",
              shape: { x: p0[0], y: p1[1], width: p1[0] - p0[0], height: p0[1] - p1[1] },
              style: { fill: color, stroke: "rgba(255,255,255,0.45)", lineWidth: 0.6 },
            };
          },
        });
      });
      elements.push(rectEl(RIGHT_COLS[c], ROWS[r], RIGHT_W, PANEL_H, "rgba(0,0,0,0)", "#333333"));
    });
  });

  // ---- strips ----
  const stripSet = (cols: number[], w: number) => {
    DAYS.forEach((day, c) => {
      elements.push(rectEl(cols[c], STRIP_TOP, w, STRIP, "#d9d9d9", "#333333"));
      elements.push(textEl(day, cols[c] + w / 2, STRIP_TOP + STRIP / 2, 33, "#1a1a1a"));
    });
    const sx = cols[2] + w;
    SEASONS.forEach((season, r) => {
      elements.push(rectEl(sx, ROWS[r], STRIP, PANEL_H, "#d9d9d9", "#333333"));
      elements.push(textEl(season, sx + STRIP / 2, ROWS[r] + PANEL_H / 2, 33, "#1a1a1a", -Math.PI / 2));
    });
  };
  stripSet(LEFT_COLS, LEFT_W);
  stripSet(RIGHT_COLS, RIGHT_W);

  // ---- axis titles ----
  const midY = (ROWS[0] + ROWS[2] + PANEL_H) / 2;
  elements.push(textEl("Stunde des Tages", (LEFT_COLS[0] + LEFT_COLS[2] + LEFT_W) / 2, 1115, 41, "#000000"));
  elements.push(textEl("Leistung in kW", (RIGHT_COLS[0] + RIGHT_COLS[2] + RIGHT_W) / 2, 1115, 41, "#000000"));
  elements.push(textEl("mittlere Last in kW", 77, midY, 41, "#000000", Math.PI / 2));
  elements.push(textEl("Energiebedarf pro Leistungsklasse in kWh/d", 1432, midY, 41, "#000000", Math.PI / 2));

  // ---- legend ----
  elements.push(textEl("ID", 2711, 472, 41, "#000000", 0, "left"));
  IDS.forEach((id, j) => {
    const ky = 515 + 45.7 * j;
    elements.push(rectEl(2711, ky, 41, 42, BAR_COLORS[j], "rgba(255,255,255,0.6)", 1));
    elements.push(textEl(id, 2776, ky + 21, 33, "#1a1a1a", 0, "left"));
  });

  return {
    animation: false,
    backgroundColor: "transparent",
    textStyle: { fontFamily: FONT },
    grid, xAxis, yAxis, series,
    graphic: { elements },
  };
}

export default function App() {
  const ref = useRef<HTMLDivElement>(null);
  useEffect(() => {
    if (!ref.current) return;
    const chart = echarts.init(ref.current, null, { renderer: "svg", width: 2890, height: 1152 });
    chart.setOption(buildOption() as any);
    return () => chart.dispose();
  }, []);
  return (
    <div style={{ position: "fixed", left: 0, top: 0, width: 2890, height: 1152, background: PAGE_BG, overflow: "hidden" }}>
      <div style={{ position: "absolute", left: 37, top: 24, width: 1294, height: 1128, background: "#ffffff" }} />
      <div style={{ position: "absolute", left: 1392, top: 24, width: 1469, height: 1128, background: "#ffffff" }} />
      <div ref={ref} style={{ position: "absolute", left: 0, top: 0, width: 2890, height: 1152 }} />
    </div>
  );
}
